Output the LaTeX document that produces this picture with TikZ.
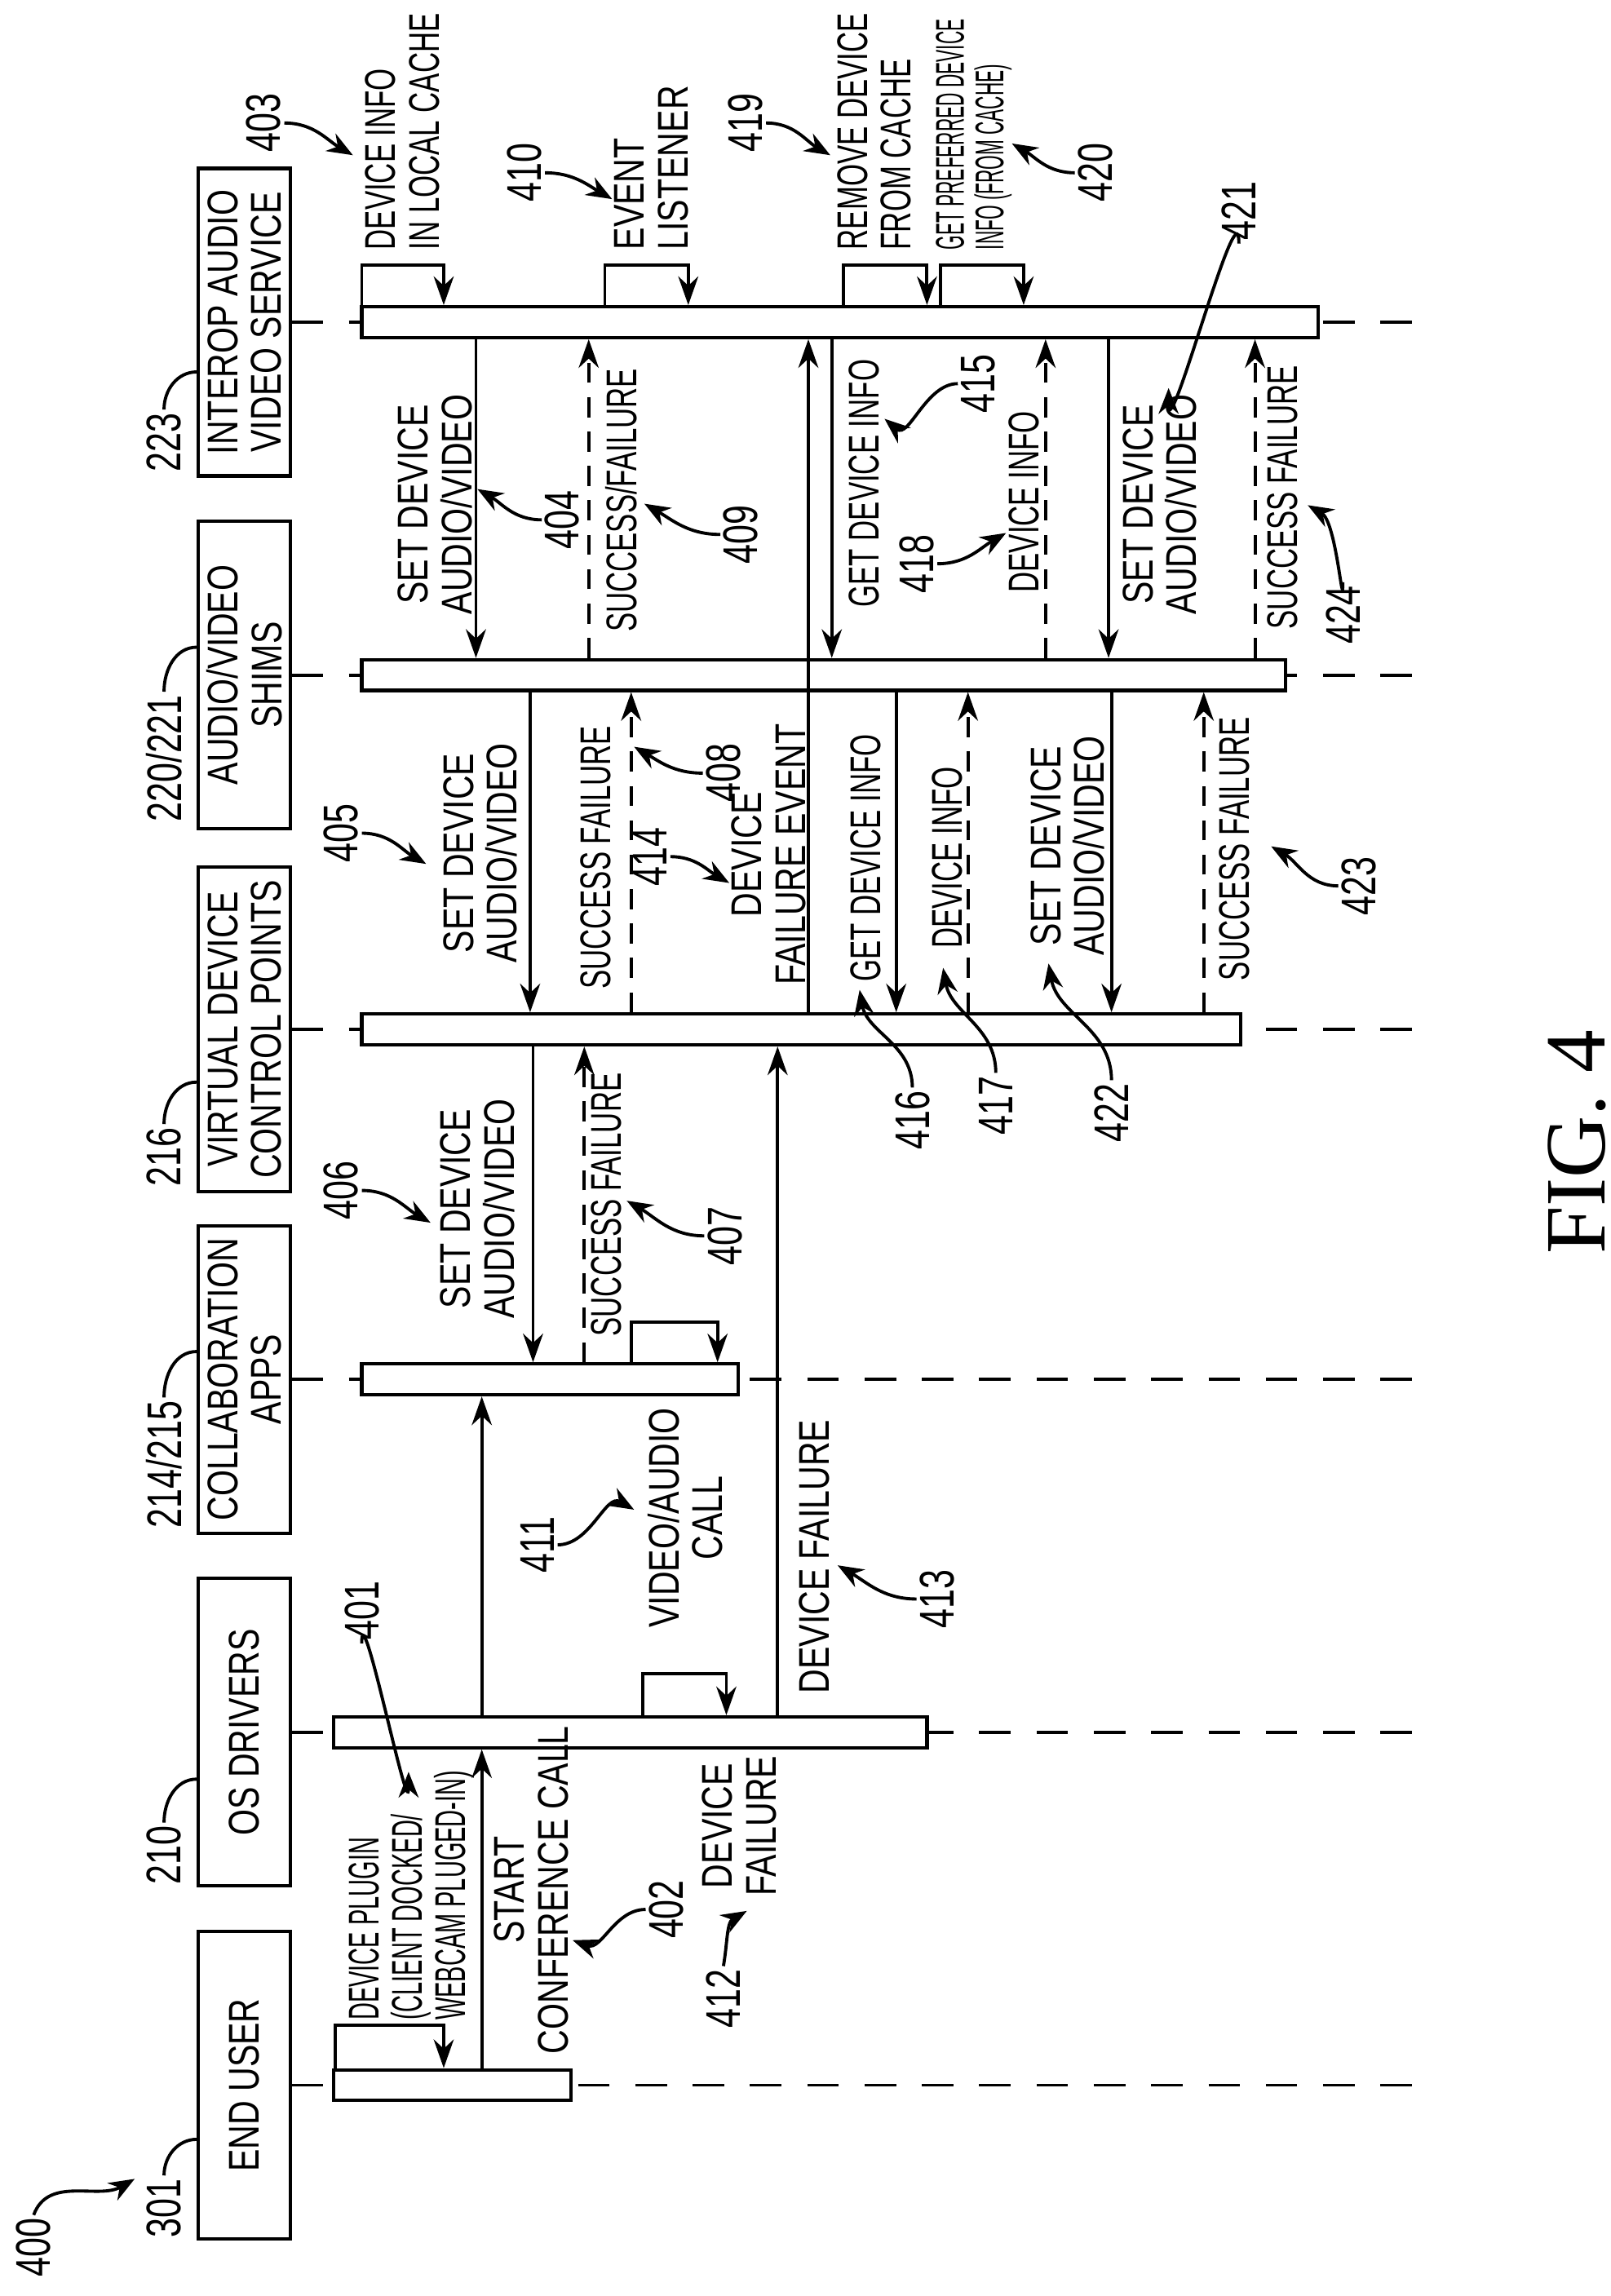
\documentclass[tikz,border=0pt]{standalone}
\usepackage{fontspec}
\setmainfont{Liberation Serif}
\newfontfamily\cnd[FakeStretch=0.78]{Liberation Sans}
\newfontfamily\cndm[FakeStretch=0.66]{Liberation Sans}
\newfontfamily\cndx[FakeStretch=0.55]{Liberation Sans}
\newfontfamily\cnds[FakeStretch=0.46]{Liberation Sans}
\newfontfamily\cndn[FakeStretch=0.72]{Liberation Sans}
\usetikzlibrary{arrows.meta}
\newcommand{\pu}{0.017955cm}
\tikzset{
  life/.style={line width=1.1pt, dash pattern=on 11pt off 9pt},
  bar/.style={draw, fill=white, line width=1.2pt, minimum height={21*\pu}, inner sep=0pt},
  hdr/.style={draw, line width=1.2pt, rotate=90, minimum width={210*\pu}, minimum height={63*\pu}, inner sep=2pt, align=center, font=\cnd\fontsize{15}{15.3}\selectfont},
  msg/.style={line width=1.1pt, -{Stealth[length=10pt,width=7pt]}},
  ret/.style={msg, dash pattern=on 7pt off 5pt},
  lbl/.style={rotate=90, anchor=west, align=center, inner sep=0pt, font=\cnd\fontsize{15}{15.3}\selectfont},
  lblm/.style={lbl, font=\cndm\fontsize{15}{15.3}\selectfont},
  num/.style={rotate=90, inner sep=1pt, font=\cndn\fontsize{17}{18}\selectfont},
  curl/.style={line width=1.1pt, -{Stealth[length=9pt,width=7pt]}},
  lead/.style={line width=1.1pt}
}
\begin{document}
\begin{tikzpicture}[x=\pu, y=-\pu]
\useasboundingbox (0,0) rectangle (1100,1568);
% lifelines
\foreach \yy in {1424,1183,942,703,461,220}
  \draw[life] (199,\yy) -- (980,\yy);
% headers
\node[hdr, fill=white] (heu) at (167,1424) {END USER};
\node[hdr, fill=white] (hos) at (167,1183) {OS DRIVERS};
\node[hdr, fill=white] (hca) at (167,942) {COLLABORATION\\APPS};
\node[hdr, fill=white, minimum width={222*\pu}] (hvd) at (167,703) {VIRTUAL DEVICE\\CONTROL POINTS};
\node[hdr, fill=white] (hsh) at (167,461) {AUDIO/VIDEO\\SHIMS};
\node[hdr, fill=white] (hia) at (167,220) {INTEROP AUDIO\\VIDEO SERVICE};
% header numbers
\node[num] (n301) at (112,1508) {301};
\node[num] (n210) at (112,1267) {210};
\node[num] (n214) at (112,1000) {214/215};
\node[num] (n216) at (112,790) {216};
\node[num] (n220) at (112,518) {220/221};
\node[num] (n223) at (112,302) {223};
\draw[lead] (n301.east) to[out=90,in=180] (hia.north |- 0,1461);
\draw[lead] (n210.east) to[out=90,in=180] (hia.north |- 0,1215);
\draw[lead] (n214.east) to[out=90,in=180] (hia.north |- 0,923);
\draw[lead] (n216.east) to[out=90,in=180] (hia.north |- 0,739);
\draw[lead] (n220.east) to[out=90,in=180] (hia.north |- 0,442);
\draw[lead] (n223.east) to[out=90,in=180] (hia.north |- 0,254);
\node[num] (n400) at (23,1535) {400};
\draw[curl] (n400.east) to[out=70,in=210] (92,1488);
% activation bars
\node[bar, minimum width={162*\pu}] (eu) at (309,1424) {};
\node[bar, minimum width={405*\pu}] (os) at (430.5,1183) {};
\node[bar, minimum width={257*\pu}] (ca) at (375.5,942) {};
\node[bar, minimum width={600*\pu}] (vd) at (547,703) {};
\node[bar, minimum width={631*\pu}] (sh) at (562.5,461) {};
\node[bar, minimum width={653*\pu}] (ia) at (573.5,220) {};
% end user
\draw[msg] (229,0 |- eu.north) |- (303,1383) -- (303,0 |- eu.north);
\node[lbl, align=left, font=\cndx\fontsize{15}{15}\selectfont] (t401) at (281,1380) {DEVICE PLUGIN\\(CLIENT DOCKED/\\WEBCAM PLUGED-IN)};
\node[num] (n401) at (247,1100) {401};
\draw[curl] (n401.west) to[out=90,in=-90] (279,1210);
\draw[msg] (329,0 |- eu.north) -- (329,0 |- os.south);
\node[lbl] (t402) at (363,1403) {START\\CONFERENCE CALL};
\node[num] (n402) at (455,1304) {402};
\draw[curl] (n402.north) to[out=180,in=-20] (391,1325);
% os drivers
\draw[msg] (329,0 |- os.north) -- (329,0 |- ca.south);
\node[lbl] (t411) at (468,1112) {VIDEO/AUDIO\\CALL};
\node[num] (n411) at (367,1055) {411};
\draw[curl] (n411.south) to[out=0,in=150] (433,1031);
\draw[msg] (439,0 |- os.north) |- (496,1143) -- (496,0 |- os.north);
\node[lbl] (t412) at (505,1295) {DEVICE\\FAILURE};
\node[num] (n412) at (494,1365) {412};
\draw[curl] (n412.east) to[out=80,in=210] (510,1305);
\draw[msg] (531,0 |- os.north) -- (531,0 |- vd.south);
\node[lbl] (t413) at (556,1157) {DEVICE FAILURE};
\node[num] (n413) at (640,1092) {413};
\draw[curl] (n413.north) to[out=180,in=-30] (572,1069);
% collaboration apps
\draw[msg] (364,0 |- vd.south) -- (364,0 |- ca.north);
\node[lbl] (t406) at (326,901) {SET DEVICE\\AUDIO/VIDEO};
\node[num] (n406) at (233,813) {406};
\draw[curl] (n406.south) to[out=0,in=150] (294,835);
\draw[ret] (399,0 |- ca.north) -- (399,0 |- vd.south);
\node[lblm] (t407) at (414,913) {SUCCESS FAILURE};
\node[num] (n407) at (495,844) {407};
\draw[curl] (n407.north) to[out=180,in=-30] (428,820);
\draw[msg] (431,0 |- ca.north) |- (490,903) -- (490,0 |- ca.north);
% virtual device control points
\draw[msg] (362,0 |- sh.south) -- (362,0 |- vd.north);
\node[lbl] (t405) at (328,658) {SET DEVICE\\AUDIO/VIDEO};
\node[num] (n405) at (233,569) {405};
\draw[curl] (n405.south) to[out=0,in=150] (291,590);
\draw[ret] (431,0 |- vd.north) -- (431,0 |- sh.south);
\node[lblm] (t408) at (407,676) {SUCCESS FAILURE};
\node[num] (n408) at (494,528) {408};
\draw[curl] (n408.north) to[out=180,in=-30] (433,510);
\draw[msg] (552,0 |- vd.north) -- (552,0 |- ia.south);
\node[lbl] (t414) at (525,673) {DEVICE\\FAILURE EVENT};
\node[num] (n414) at (444,585) {414};
\draw[curl] (n414.south) to[out=0,in=150] (498,603);
\draw[msg] (612,0 |- sh.south) -- (612,0 |- vd.north);
\node[lblm] (t416) at (591,671) {GET DEVICE INFO};
\node[num] (n416) at (623,765) {416};
\draw[curl] (n416.east) to[out=90,in=-80] (587,676);
\draw[ret] (661,0 |- vd.north) -- (661,0 |- sh.south);
\node[lblm] (t417) at (647,648) {DEVICE INFO};
\node[num] (n417) at (680,755) {417};
\draw[curl] (n417.east) to[out=90,in=-80] (644,661);
\draw[msg] (759,0 |- sh.south) -- (759,0 |- vd.north);
\node[lbl] (t422) at (729,653) {SET DEVICE\\AUDIO/VIDEO};
\node[num] (n422) at (759,760) {422};
\draw[curl] (n422.east) to[out=90,in=-80] (716,658);
\draw[ret] (822,0 |- vd.north) -- (822,0 |- sh.south);
\node[lblm] (t423) at (843,670) {SUCCESS FAILURE};
\node[num] (n423) at (928,605) {423};
\draw[curl] (n423.north) to[out=180,in=-30] (868,578);
% shims
\draw[msg] (325,0 |- ia.south) -- (325,0 |- sh.north);
\node[lbl] (t404) at (297,420) {SET DEVICE\\AUDIO/VIDEO};
\node[num] (n404) at (384,355) {404};
\draw[curl] (n404.north) to[out=180,in=-30] (326,334);
\draw[ret] (402,0 |- sh.north) -- (402,0 |- ia.south);
\node[lblm] (t409) at (424,432) {SUCCESS/FAILURE};
\node[num] (n409) at (506,365) {409};
\draw[curl] (n409.north) to[out=180,in=-30] (440,344);
\draw[msg] (568,0 |- ia.south) -- (568,0 |- sh.north);
\node[lblm] (t415) at (590,415) {GET DEVICE INFO};
\node[num] (n415) at (668,262) {415};
\draw[curl] (n415.north) to[out=180,in=-40] (604,286);
\draw[ret] (714,0 |- sh.north) -- (714,0 |- ia.south);
\node[lblm] (t418) at (699,405) {DEVICE INFO};
\node[num] (n418) at (626,385) {418};
\draw[curl] (n418.south) to[out=0,in=210] (687,364);
\draw[msg] (757,0 |- ia.south) -- (757,0 |- sh.north);
\node[lbl] (t421) at (792,420) {SET DEVICE\\AUDIO/VIDEO};
\node[num] (n421) at (846,144) {421};
\draw[curl] (n421.west) to[out=90,in=-90] (798,265);
\draw[ret] (857,0 |- sh.north) -- (857,0 |- ia.south);
\node[lblm] (t424) at (876,430) {SUCCESS FAILURE};
\node[num] (n424) at (917,420) {424};
\draw[curl] (n424.east) to[out=-90,in=-30] (893,345);
% interop audio video service
\draw[msg] (247,0 |- ia.north) |- (303,181) -- (303,0 |- ia.north);
\node[lblm, align=left] (t403) at (275,171) {DEVICE INFO\\IN LOCAL CACHE};
\node[num] (n403) at (180,84) {403};
\draw[curl] (n403.south) to[out=0,in=150] (241,106);
\draw[msg] (413,0 |- ia.north) |- (470,181) -- (470,0 |- ia.north);
\node[lbl, align=left] (t410) at (445,171) {EVENT\\LISTENER};
\node[num] (n410) at (358,118) {410};
\draw[curl] (n410.south) to[out=0,in=150] (418,136);
\draw[msg] (576,0 |- ia.north) |- (633,181) -- (633,0 |- ia.north);
\node[lblm, align=left] (t419) at (597,171) {REMOVE DEVICE\\FROM CACHE};
\node[num] (n419) at (509,84) {419};
\draw[curl] (n419.south) to[out=0,in=150] (567,106);
\draw[msg] (642,0 |- ia.north) |- (699,181) -- (699,0 |- ia.north);
\node[lbl, align=left, font=\cnds\fontsize{14}{13.8}\selectfont] (t420) at (665,171) {GET PREFERRED DEVICE\\INFO (FROM CACHE)};
\node[num] (n420) at (748,118) {420};
\draw[curl] (n420.north) to[out=180,in=-30] (691,98);
% figure label
\node[rotate=90, font=\fontsize{30}{32}\selectfont] (fig) at (1077,780) {FIG. 4};
\end{tikzpicture}
\end{document}
